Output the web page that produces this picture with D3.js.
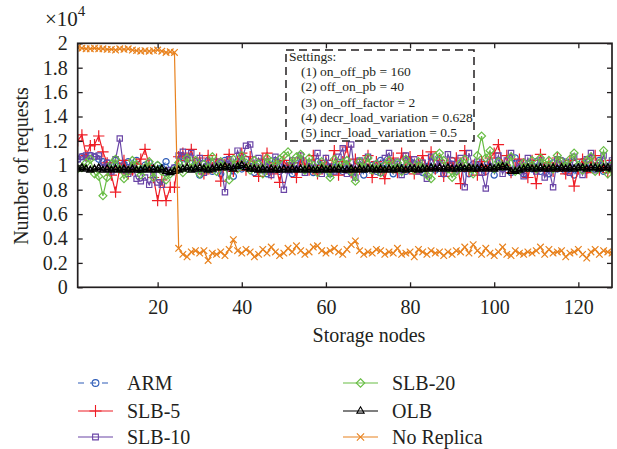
<!DOCTYPE html>
<html>
<head>
<meta charset="utf-8">
<script src="https://cdn.jsdelivr.net/npm/d3@7"></script>
<style>
  body { margin: 0; background: #fff; }
  svg { display: block; }
  svg text { font-family: "Liberation Serif", "DejaVu Serif", serif !important; fill: #231f20; }
</style>
</head>
<body>
<svg id="chart" width="617" height="449"></svg>
<script>
// Requests per storage node, in units of 10^4
const nodes = d3.range(1, 129);

const arm = [
  1.05,1.07,1.06,1.08,1.07,1.05,1.03,1.02,1.00,1.04,0.99,1.01,1.03,0.98,1.04,0.96,
  1.00,1.02,0.97,1.00,0.98,1.03,0.96,0.98,1.02,1.06,1.05,0.98,1.03,0.92,1.01,1.04,
  0.95,1.00,0.93,1.04,0.99,0.91,1.03,0.97,1.05,0.99,0.94,1.01,0.97,0.93,1.00,1.04,
  0.95,1.02,0.98,0.93,1.00,1.05,0.96,0.99,0.94,1.03,0.96,1.00,0.93,0.98,1.02,0.95,
  1.01,0.94,0.99,1.03,0.92,0.98,1.00,0.95,1.04,0.97,0.99,0.93,1.01,0.98,0.95,1.03,
  0.97,1.00,0.94,0.99,1.02,0.96,1.05,0.93,0.98,1.04,0.95,1.00,0.97,0.93,1.01,0.98,
  1.02,0.95,0.99,0.92,1.04,0.97,1.00,0.94,1.06,0.98,0.93,1.01,0.97,1.03,0.95,0.99,
  0.93,1.02,0.97,1.04,0.95,1.00,0.92,0.98,1.03,0.96,1.01,0.97,1.04,0.95,0.99,1.02
];

const slb5 = [
  1.20,1.25,1.08,1.16,1.17,1.24,1.11,1.02,0.92,0.78,0.98,1.04,0.93,0.96,1.01,1.05,
  1.13,1.00,0.90,0.71,0.88,0.71,0.82,0.82,1.07,1.10,1.04,1.13,1.00,1.06,0.93,1.08,
  0.98,1.05,0.87,1.01,1.09,0.95,1.03,1.10,0.96,1.07,1.00,0.91,1.05,1.10,0.93,1.02,
  0.86,1.04,0.98,1.02,0.90,1.06,1.01,0.96,1.08,0.93,1.00,1.04,0.95,1.12,0.92,1.03,
  1.15,0.94,1.05,0.97,1.01,1.08,0.90,1.03,0.96,0.89,1.02,1.06,0.94,1.10,0.98,1.07,
  0.93,1.01,1.08,0.96,1.11,0.97,1.04,0.91,1.02,0.98,1.06,0.85,1.12,0.95,1.00,0.92,
  1.03,0.96,1.06,1.10,1.17,1.00,1.08,0.94,0.98,1.05,1.01,0.90,1.04,0.85,1.09,0.97,
  1.02,0.95,1.06,0.99,0.93,1.04,0.83,0.97,1.05,0.94,1.02,1.08,0.96,1.00,0.94,1.04
];

const slb10 = [
  1.05,1.07,1.08,1.08,1.07,1.08,0.98,1.02,0.95,1.05,1.22,0.96,0.93,1.00,0.89,0.87,
  0.90,0.84,0.92,0.86,0.84,0.94,0.96,0.98,1.08,1.11,1.05,1.10,0.97,1.06,0.94,1.03,
  0.97,1.03,1.02,0.78,1.05,0.98,1.12,1.04,1.16,1.17,0.99,1.06,0.96,1.03,0.92,1.07,
  1.01,0.80,0.96,1.04,0.97,1.08,0.94,1.02,0.98,1.10,0.93,1.06,0.99,0.95,1.07,1.14,
  0.93,1.17,0.90,1.04,0.99,1.07,0.96,1.01,0.94,1.06,1.10,0.97,1.03,0.92,1.08,0.99,
  1.05,0.95,1.02,0.89,1.07,0.98,1.04,0.93,1.09,1.01,0.96,1.06,0.82,1.10,0.98,1.03,
  0.94,0.81,1.03,0.97,1.08,0.93,1.04,1.10,0.96,1.02,0.91,1.06,0.99,0.95,1.04,0.90,
  0.97,0.82,1.05,0.98,1.03,0.94,1.07,0.99,0.92,1.05,1.10,0.96,1.02,1.08,0.99,1.04
];

const slb20 = [
  0.97,0.98,1.02,1.05,0.93,0.91,0.75,0.90,1.01,1.05,0.97,0.89,0.95,1.04,1.00,0.92,
  0.98,1.03,0.90,1.00,0.95,0.88,0.93,0.96,1.02,0.94,1.06,0.98,1.04,0.93,1.01,0.97,
  1.07,0.95,1.03,0.99,0.88,1.05,0.97,1.08,1.02,0.96,1.04,1.01,0.93,1.06,1.03,1.00,
  1.05,1.08,1.11,1.02,1.07,1.09,0.96,1.06,1.00,0.94,1.03,0.97,0.90,1.05,0.98,1.02,
  1.04,0.95,0.87,1.03,0.98,1.06,0.96,1.01,0.94,1.00,1.04,0.97,1.02,0.95,1.05,0.99,
  0.96,1.03,0.98,0.92,0.89,1.07,1.10,1.04,0.97,0.90,0.95,1.02,1.05,0.98,0.93,1.08,
  1.24,1.06,1.12,0.97,1.03,0.99,1.00,1.07,0.95,0.96,1.02,0.98,1.04,0.97,1.06,1.01,
  1.04,0.97,1.08,1.03,0.99,1.05,1.10,1.00,0.96,1.04,1.07,0.95,1.02,1.12,0.93,1.00
];

const olb = [
  0.97,0.98,0.97,0.96,0.97,0.98,0.96,0.97,0.96,0.97,0.96,0.97,0.96,0.97,0.96,0.96,
  0.97,0.96,0.97,0.96,0.97,0.95,0.94,0.95,0.96,0.97,0.98,0.96,0.97,0.98,0.97,0.96,
  0.97,0.98,0.98,0.99,0.98,0.97,0.99,1.00,0.98,0.97,0.97,0.96,0.97,0.96,0.97,0.96,
  0.96,0.97,0.96,0.97,0.96,0.97,0.96,0.97,0.96,0.96,0.97,0.96,0.97,0.96,0.97,0.96,
  0.96,0.97,0.96,0.97,0.96,0.97,0.97,0.96,0.97,0.96,0.97,0.96,0.97,0.97,0.96,0.97,
  0.97,0.96,0.97,0.97,0.98,0.97,0.98,0.97,0.98,0.97,0.97,0.98,0.97,0.98,0.97,0.97,
  0.98,0.97,0.98,0.97,0.98,0.99,0.98,0.95,0.95,0.96,0.97,0.98,0.97,0.97,0.98,0.97,
  0.97,0.98,0.97,0.98,0.97,0.98,0.97,0.98,0.98,0.97,0.98,0.98,0.97,0.98,0.98,0.97
];

const noReplica = [
  1.965,1.96,1.955,1.955,1.96,1.955,1.955,1.95,1.95,1.945,1.955,1.95,1.955,1.945,1.94,1.935,
  1.94,1.935,1.94,1.945,1.935,1.925,1.93,1.925,0.32,0.27,0.25,0.29,0.30,0.28,0.30,0.22,
  0.28,0.27,0.29,0.26,0.31,0.39,0.30,0.28,0.31,0.29,0.25,0.27,0.31,0.28,0.33,0.29,
  0.26,0.28,0.32,0.29,0.34,0.30,0.27,0.29,0.33,0.34,0.30,0.28,0.30,0.32,0.29,0.27,
  0.31,0.35,0.38,0.30,0.27,0.29,0.28,0.31,0.30,0.27,0.29,0.28,0.32,0.27,0.28,0.29,
  0.25,0.31,0.29,0.27,0.30,0.28,0.29,0.26,0.29,0.27,0.30,0.29,0.33,0.28,0.35,0.30,
  0.27,0.32,0.28,0.26,0.29,0.33,0.27,0.26,0.30,0.28,0.27,0.29,0.28,0.30,0.33,0.27,
  0.31,0.28,0.29,0.30,0.25,0.28,0.29,0.31,0.27,0.24,0.29,0.31,0.27,0.30,0.29,0.28
];

const seriesNames = ["ARM", "SLB-5", "SLB-10", "SLB-20", "OLB", "No Replica"];
const seriesValues = [arm, slb5, slb10, slb20, olb, noReplica];

const xTicks = [20, 40, 60, 80, 100, 120];
const yTicks = [0, 0.2, 0.4, 0.6, 0.8, 1, 1.2, 1.4, 1.6, 1.8, 2];

const settingsLines = [
  "Settings:",
  "(1) on_off_pb = 160",
  "(2) off_on_pb = 40",
  "(3) on_off_factor = 2",
  "(4) decr_load_variation = 0.628",
  "(5) incr_load_variation = 0.5"
];

// ---- styling ----
const serif = "'Liberation Serif', 'DejaVu Serif', serif";
const styles = [
  { color: "#2e5cb8", symbol: d3.symbolCircle,    size: 30, dash: "4,3", sw: 1.2 },
  { color: "#ee1c25", symbol: d3.symbolPlus,      size: 44, dash: null,  sw: 1.2 },
  { color: "#6a45a6", symbol: d3.symbolSquare2,   size: 36, dash: null,  sw: 1.2 },
  { color: "#68bd45", symbol: d3.symbolDiamond2,  size: 40, dash: null,  sw: 1.2 },
  { color: "#000000", symbol: d3.symbolTriangle2, size: 32, dash: null,  sw: 1.5 },
  { color: "#e8821e", symbol: d3.symbolTimes,     size: 30, dash: null,  sw: 1.2 }
];

const svg = d3.select("#chart");
const plotL = 77.7, plotR = 612, plotT = 43.3, plotB = 287.3;

const x = d3.scaleLinear().domain([1, 128]).range([plotL, plotR]);
const y = d3.scaleLinear().domain([0, 2]).range([plotB, plotT]);

svg.append("clipPath").attr("id", "plotClip")
  .append("rect").attr("x", plotL).attr("y", plotT - 6)
  .attr("width", plotR - plotL).attr("height", plotB - plotT + 6);

// ---- series ----
const seriesG = svg.append("g").attr("clip-path", "url(#plotClip)");
seriesValues.forEach((vals, i) => {
  const st = styles[i];
  const pts = nodes.map((n, k) => [n, vals[k]]);
  const line = d3.line().x(d => x(d[0])).y(d => y(d[1]));
  const g = seriesG.append("g");
  g.append("path")
    .attr("d", line(pts))
    .attr("fill", "none")
    .attr("stroke", st.color)
    .attr("stroke-width", st.sw)
    .attr("stroke-dasharray", st.dash);
  const sym = d3.symbol().type(st.symbol).size(st.size);
  g.selectAll("path.m").data(pts).join("path")
    .attr("class", "m")
    .attr("d", sym)
    .attr("transform", d => `translate(${x(d[0])},${y(d[1])})`)
    .attr("fill", "none")
    .attr("stroke", st.color)
    .attr("stroke-width", st.sw);
});

// ---- frame and ticks ----
svg.append("rect")
  .attr("x", plotL).attr("y", plotT)
  .attr("width", plotR - plotL).attr("height", plotB - plotT)
  .attr("fill", "none").attr("stroke", "#231f20").attr("stroke-width", 1.7);

const tickLen = 5;
const axisBottom = d3.axisBottom(x).tickValues(xTicks).tickSize(-tickLen).tickPadding(13).tickFormat(d3.format("d"));
const axisTop = d3.axisTop(x).tickValues(xTicks).tickSize(-tickLen).tickFormat("");
const axisLeft = d3.axisLeft(y).tickValues(yTicks).tickSize(-tickLen).tickPadding(10).tickFormat(d => d3.format("~g")(d));
const axisRight = d3.axisRight(y).tickValues(yTicks).tickSize(-tickLen).tickFormat("");

function styleAxis(g) {
  g.attr("font-family", serif);
  g.select(".domain").remove();
  g.selectAll(".tick line").attr("stroke", "#231f20").attr("stroke-width", 1.3);
  g.selectAll(".tick text").style("font-family", serif).attr("font-size", 20).attr("fill", "#231f20");
}
svg.append("g").attr("transform", `translate(0,${plotB})`).call(axisBottom).call(styleAxis);
svg.append("g").attr("transform", `translate(0,${plotT})`).call(axisTop).call(styleAxis);
svg.append("g").attr("transform", `translate(${plotL},0)`).call(axisLeft).call(styleAxis);
svg.append("g").attr("transform", `translate(${plotR},0)`).call(axisRight).call(styleAxis);

// exponent label
const expo = svg.append("text").attr("x", 45).attr("y", 26).attr("font-size", 21).style("font-family", serif);
expo.append("tspan").text("\u00d710");
expo.append("tspan").attr("dy", -10).attr("font-size", 15).text("4");

// axis titles
svg.append("text")
  .attr("transform", "translate(28,166) rotate(-90)")
  .attr("text-anchor", "middle")
  .attr("font-size", 20)
  .style("font-family", serif)
  .text("Number of requests");

svg.append("text")
  .attr("x", 369).attr("y", 342)
  .attr("text-anchor", "middle")
  .attr("font-size", 20)
  .style("font-family", serif)
  .text("Storage nodes");

// ---- settings box ----
const box = svg.append("g");
box.append("rect")
  .attr("x", 286).attr("y", 50).attr("width", 188).attr("height", 91)
  .attr("fill", "#fff").attr("stroke", "#231f20").attr("stroke-width", 1.5)
  .attr("stroke-dasharray", "8,5");
box.selectAll("text").data(settingsLines).join("text")
  .attr("x", (d, i) => i === 0 ? 289 : 301)
  .attr("y", (d, i) => 61 + i * 15.2)
  .attr("font-size", 13.5)
  .style("font-family", serif)
  .text(d => d);

// ---- legend ----
const legend = svg.append("g");
seriesNames.forEach((name, i) => {
  const st = styles[i];
  const lx = i < 3 ? 78 : 343;
  const cy = [383, 411, 437][i % 3];
  legend.append("line")
    .attr("x1", lx).attr("x2", lx + 35)
    .attr("y1", cy).attr("y2", cy)
    .attr("stroke", st.color).attr("stroke-width", 1.2)
    .attr("stroke-dasharray", st.dash ? "6,6" : null);
  legend.append("path")
    .attr("d", d3.symbol().type(st.symbol).size(st.size + 6)())
    .attr("transform", `translate(${lx + 17.5},${cy})`)
    .attr("fill", "none").attr("stroke", st.color).attr("stroke-width", 1.1);
  legend.append("text")
    .attr("x", lx + 49).attr("y", cy + 7)
    .attr("font-size", 20)
    .style("font-family", serif)
    .text(name);
});
</script>
</body>
</html>
